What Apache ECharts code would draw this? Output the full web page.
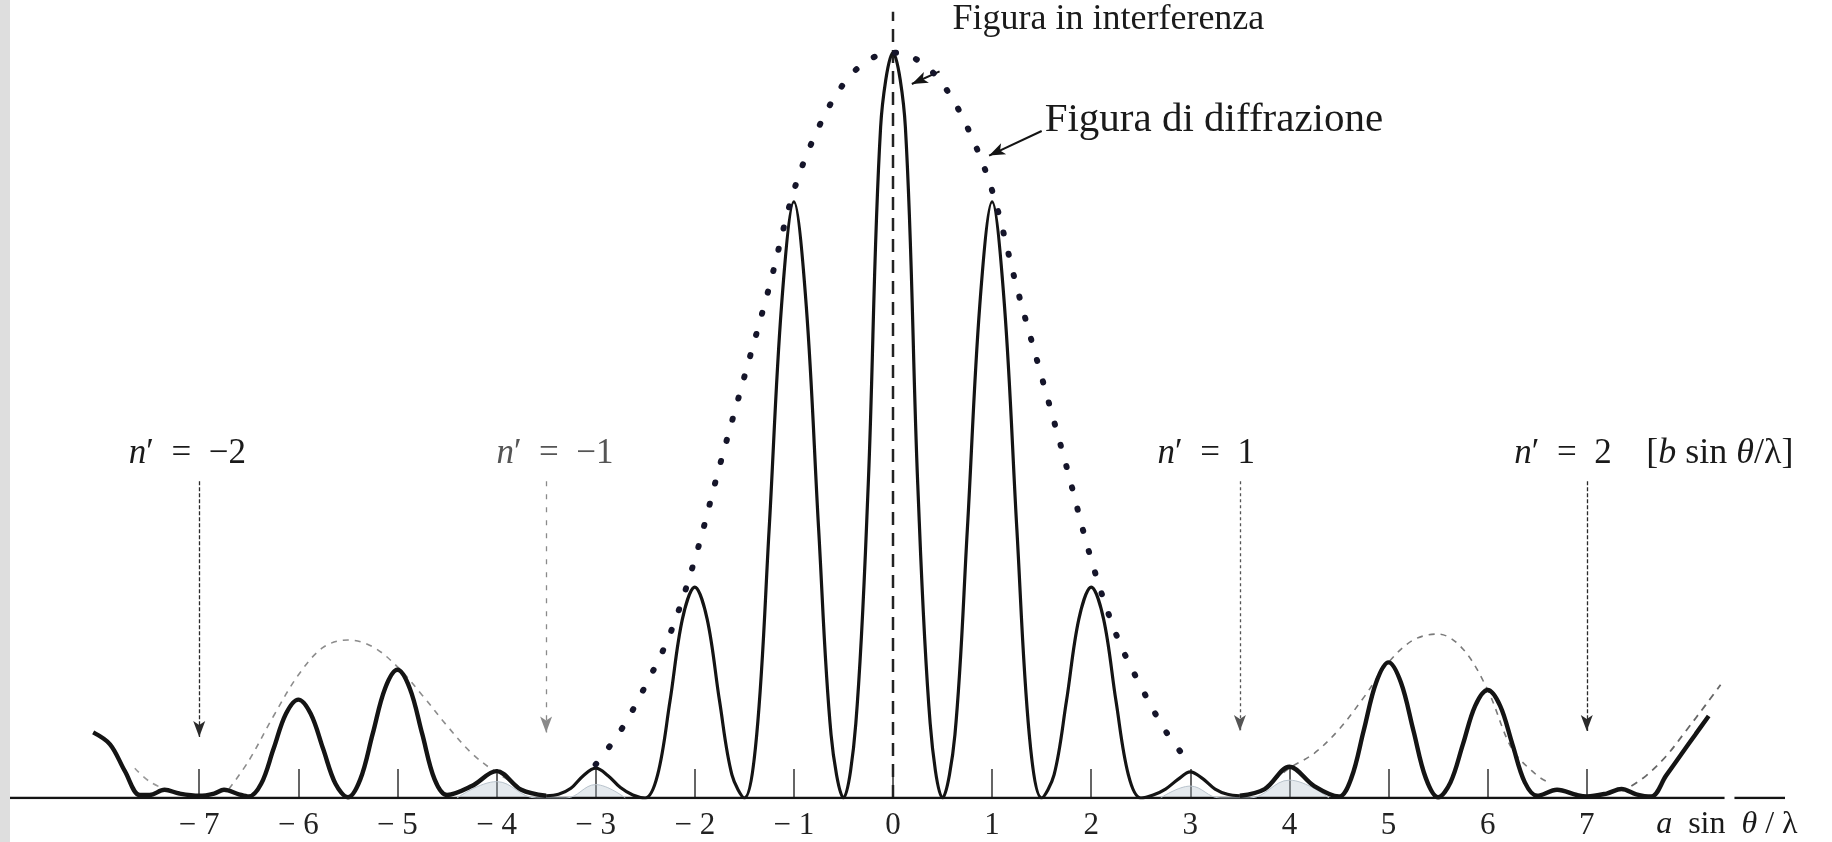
<!DOCTYPE html>
<html>
<head>
<meta charset="utf-8">
<script src="https://cdn.jsdelivr.net/npm/echarts@6/dist/echarts.min.js"></script>
<style>
  html, body { margin: 0; padding: 0; background: #fff; }
  #chart { width: 1832px; height: 842px; }
</style>
</head>
<body>
<div id="chart"></div>
<script>
// a sin(theta)/lambda tick positions
const TICKS = [-7, -6, -5, -4, -3, -2, -1, 0, 1, 2, 3, 4, 5, 6, 7];

// interference pattern: [a sin θ/λ, intensity]
const WING_LEFT = [
  [-8.07, 0.088], [-7.9, 0.072], [-7.75, 0.036], [-7.6, 0.004], [-7.5, 0.004],
  [-7.35, 0.011], [-7.2, 0.006], [-7.0, 0.003], [-6.85, 0.006], [-6.75, 0.011],
  [-6.6, 0.005], [-6.5, 0.002], [-6.375, 0.019], [-6.25, 0.066], [-6.125, 0.113],
  [-6.0, 0.132], [-5.875, 0.113], [-5.75, 0.066], [-5.625, 0.019], [-5.5, 0.001],
  [-5.375, 0.025], [-5.25, 0.086], [-5.125, 0.147], [-5.0, 0.172], [-4.875, 0.147],
  [-4.75, 0.086], [-4.625, 0.025], [-4.5, 0.004], [-4.25, 0.016], [-4.0, 0.036],
  [-3.75, 0.011], [-3.5, 0.003]
];
const CENTER = [
  [-3.5, 0.003], [-3.375, 0.005], [-3.25, 0.013], [-3.125, 0.03], [-3.0, 0.04],
  [-2.875, 0.03], [-2.75, 0.014], [-2.625, 0.004], [-2.5, 0.0],
  [-2.375, 0.031], [-2.25, 0.13], [-2.125, 0.24], [-2.0, 0.283], [-1.875, 0.24],
  [-1.75, 0.13], [-1.625, 0.031], [-1.5, 0.0],
  [-1.375, 0.085], [-1.25, 0.36], [-1.125, 0.66], [-1.0, 0.8], [-0.875, 0.66],
  [-0.75, 0.36], [-0.625, 0.085], [-0.5, 0.0],
  [-0.375, 0.1], [-0.25, 0.42], [-0.125, 0.9], [0.0, 1.0], [0.125, 0.9],
  [0.25, 0.42], [0.375, 0.1], [0.5, 0.0],
  [0.625, 0.085], [0.75, 0.36], [0.875, 0.66], [1.0, 0.8], [1.125, 0.66],
  [1.25, 0.36], [1.375, 0.085], [1.5, 0.0],
  [1.625, 0.031], [1.75, 0.13], [1.875, 0.24], [2.0, 0.283], [2.125, 0.24],
  [2.25, 0.13], [2.375, 0.031], [2.5, 0.0],
  [2.625, 0.004], [2.75, 0.012], [2.875, 0.025], [3.0, 0.035], [3.125, 0.026],
  [3.25, 0.012], [3.375, 0.005], [3.5, 0.003]
];
const WING_RIGHT = [
  [3.5, 0.003], [3.75, 0.012], [4.0, 0.042], [4.25, 0.016], [4.5, 0.002],
  [4.625, 0.027], [4.75, 0.091], [4.875, 0.155], [5.0, 0.182], [5.125, 0.155],
  [5.25, 0.091], [5.375, 0.027], [5.5, 0.001], [5.625, 0.021], [5.75, 0.072],
  [5.875, 0.124], [6.0, 0.145], [6.125, 0.124], [6.25, 0.072], [6.375, 0.021],
  [6.5, 0.003], [6.7, 0.011], [6.9, 0.004], [7.0, 0.002], [7.2, 0.006],
  [7.35, 0.012], [7.5, 0.005], [7.65, 0.002], [7.8, 0.03], [7.95, 0.058],
  [8.1, 0.086], [8.23, 0.11]
];

// faint shading under the small bumps near ±3, ±4
const SHADE_LEFT = [[-4.4, 0.0], [-4.0, 0.022], [-3.6, 0.0], [-3.3, 0.0], [-3.0, 0.018], [-2.7, 0.0]];
const SHADE_RIGHT = [[2.7, 0.0], [3.0, 0.016], [3.3, 0.0], [3.6, 0.0], [4.0, 0.024], [4.4, 0.0]];

// diffraction envelope
const ENV_MAIN = [
  [-3.0, 0.045], [-2.75, 0.09], [-2.5, 0.15], [-2.25, 0.22], [-2.0, 0.32],
  [-1.75, 0.445], [-1.5, 0.565], [-1.25, 0.685], [-1.0, 0.815], [-0.75, 0.9],
  [-0.5, 0.958], [-0.25, 0.99], [0.0, 1.0], [0.25, 0.99], [0.5, 0.958],
  [0.75, 0.9], [1.0, 0.815], [1.25, 0.685], [1.5, 0.565], [1.75, 0.445],
  [2.0, 0.32], [2.25, 0.22], [2.5, 0.15], [2.75, 0.09], [3.0, 0.045]
];
const ENV_LEFT = [
  [-6.7, 0.012], [-6.5, 0.05], [-6.25, 0.11], [-6.0, 0.165], [-5.75, 0.202],
  [-5.5, 0.212], [-5.25, 0.203], [-5.0, 0.176], [-4.75, 0.138], [-4.5, 0.097],
  [-4.25, 0.06], [-4.0, 0.034], [-3.75, 0.014]
];
const ENV_RIGHT = [
  [3.75, 0.014], [4.0, 0.04], [4.25, 0.06], [4.5, 0.092], [4.75, 0.135],
  [5.0, 0.182], [5.25, 0.212], [5.5, 0.22], [5.75, 0.2], [6.0, 0.145],
  [6.25, 0.065], [6.5, 0.03], [6.6, 0.022]
];
const TAIL_LEFT = [[-7.65, 0.04], [-7.5, 0.022], [-7.3, 0.009]];
const TAIL_RIGHT = [[7.45, 0.016], [7.6, 0.03], [7.8, 0.056], [8.0, 0.09], [8.2, 0.125], [8.35, 0.152]];

// diffraction minima n' (b sin θ/λ) and their arrows
const ARROW_X = [-7, -3.5, 3.5, 7];
const ARROW_TOP = 0.425;
const ARROW_TIP = [0.082, 0.088, 0.09, 0.09];
const N_LABELS = ['−2', '−1', '1', '2'];
const N_LABEL_X = [-7.12, -3.41, 3.16, 6.76];
const N_LABEL_Y = 0.462;

const AXIS_BREAK = [8.39, 8.49];
const CENTER_TOP = 1.055;

const SERIF = '"Liberation Serif", "DejaVu Serif", serif';
const INK = '#141414';

const chart = echarts.init(document.getElementById('chart'));

function curve(data, width, extra) {
  return Object.assign({
    type: 'line', data, smooth: 0.35, showSymbol: false, silent: true,
    lineStyle: { color: INK, width }, z: 5
  }, extra || {});
}

function shade(data) {
  return {
    type: 'line', data, smooth: 0.4, showSymbol: false, silent: true,
    lineStyle: { color: '#b9c3cc', width: 1 },
    areaStyle: { color: 'rgba(170,185,198,0.45)' }, z: 3
  };
}

const arrowColors = ['#2a2a2a', '#8a8a8a', '#555', '#2a2a2a'];
const arrowTypes = [[4, 2], [5, 8], [3, 3], [4, 2]];

chart.setOption({
  animation: false,
  backgroundColor: '#fff',
  grid: { left: 1, right: 47, top: 8, bottom: 44 },
  xAxis: {
    type: 'value', min: -9, max: 9,
    axisLine: { show: false },
    splitLine: { show: false },
    axisTick: {
      show: true, inside: true, length: 29, customValues: TICKS,
      lineStyle: { color: '#333', width: 1.5 }
    },
    axisLabel: {
      customValues: TICKS, margin: 12,
      fontFamily: SERIF, fontSize: 31, color: '#222',
      formatter: v => (v < 0 ? '− ' + (-v) : String(v))
    }
  },
  yAxis: { type: 'value', min: 0, max: 1.06, show: false },
  series: [
    {
      type: 'line', data: [[-9, 0], [AXIS_BREAK[0], 0]], showSymbol: false, silent: true,
      lineStyle: { color: INK, width: 2.5 }, z: 3
    },
    {
      type: 'line', data: [[AXIS_BREAK[1], 0], [9, 0]], showSymbol: false, silent: true,
      lineStyle: { color: INK, width: 2.5 }, z: 3
    },
    {
      type: 'line', data: [[0, 0], [0, CENTER_TOP]], showSymbol: false, silent: true,
      lineStyle: { color: '#222', width: 2.5, type: [13, 8] }, z: 2,
      markLine: {
        silent: true, symbol: ['none', 'arrow'], symbolSize: [9, 16],
        label: { show: false },
        data: ARROW_X.map((x, i) => [
          { coord: [x, ARROW_TOP], lineStyle: { color: arrowColors[i], width: 1.3, type: arrowTypes[i] },
            itemStyle: { color: arrowColors[i] } },
          { coord: [x, ARROW_TIP[i]] }
        ]).concat([
          [{ coord: [0.47, 0.975], lineStyle: { color: INK, width: 2, type: 'solid' }, itemStyle: { color: INK } },
           { coord: [0.19, 0.958] }],
          [{ coord: [1.5, 0.895], lineStyle: { color: INK, width: 2, type: 'solid' }, itemStyle: { color: INK } },
           { coord: [0.97, 0.862] }]
        ])
      }
    },
    shade(SHADE_LEFT),
    shade(SHADE_RIGHT),
    curve(ENV_LEFT, 1.6, { lineStyle: { color: '#8c8c8c', width: 1.6, type: [6, 6] }, z: 4 }),
    curve(ENV_RIGHT, 1.6, { lineStyle: { color: '#7a7a7a', width: 1.6, type: [6, 6] }, z: 4 }),
    curve(TAIL_LEFT, 1.6, { lineStyle: { color: '#9a9a9a', width: 1.6, type: [6, 6] }, z: 4 }),
    curve(TAIL_RIGHT, 1.6, { lineStyle: { color: '#666', width: 1.8, type: [7, 6] }, z: 4 }),
    curve(ENV_MAIN, 6, { lineStyle: { color: '#15152a', width: 6, type: [1, 21], cap: 'round' }, z: 6 }),
    curve(WING_LEFT, 4.4),
    curve(CENTER, 3.2),
    curve(WING_RIGHT, 4.4)
  ]
});

const px = (x, y) => chart.convertToPixel({ xAxisIndex: 0, yAxisIndex: 0 }, [x, y]);

function label(x, y, text, size, align, color) {
  const p = px(x, y);
  const fill = color || '#1a1a1a';
  return {
    type: 'text', x: p[0], y: p[1], silent: true, z: 10,
    style: {
      text, fontFamily: SERIF, fontSize: size, fill,
      align: align || 'left', verticalAlign: 'middle',
      rich: {
        i: { fontStyle: 'italic', fontFamily: SERIF, fontSize: size, fill }
      }
    }
  };
}

const graphics = [
  { type: 'rect', shape: { x: 0, y: 0, width: 10, height: 842 }, style: { fill: '#dedede' }, z: 20, silent: true },
  label(0.6, 1.045, 'Figura in interferenza', 36),
  label(1.53, 0.91, 'Figura di diffrazione', 41)
];
N_LABELS.forEach((t, i) => {
  graphics.push(label(N_LABEL_X[i], N_LABEL_Y, '{i|n}′  =  ' + t, 35, 'center', i === 1 ? '#555' : '#1a1a1a'));
});
graphics.push(label(7.6, N_LABEL_Y, '[{i|b} sin {i|θ}/λ]', 36));
graphics.push(label(7.7, -0.036, '{i|a}  sin  {i|θ} / λ', 32));

chart.setOption({ graphic: graphics });
</script>
</body>
</html>
